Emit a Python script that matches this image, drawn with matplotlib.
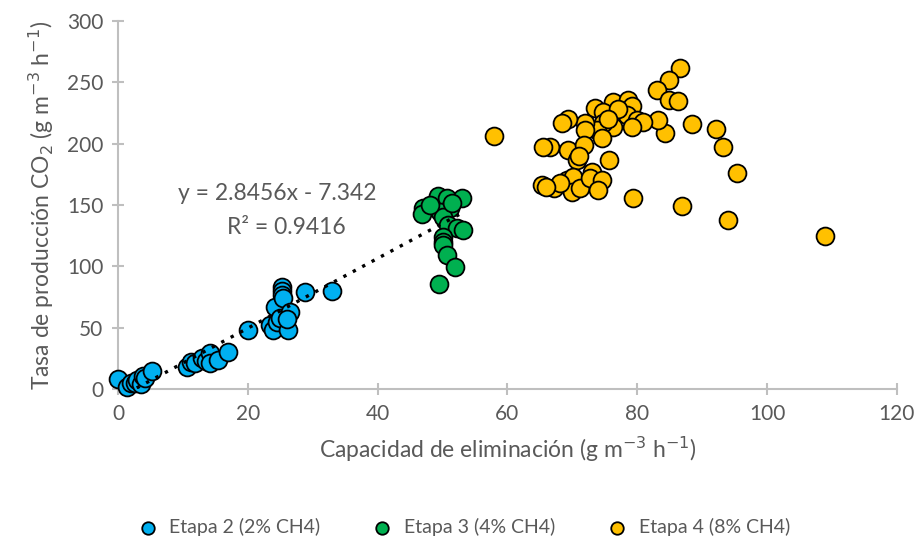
import numpy as np
import matplotlib.pyplot as plt

# ─── Data ─────────────────────────────────────────────────────────────────────

etapa2_x = [0, 1.4, 2.0, 2.6, 3.0, 3.5, 3.9, 4.2, 5.2, 10.6, 11.2, 11.9, 12.9,
            13.5, 14.2, 14.2, 15.4, 17.0, 20.0, 23.4, 23.9, 24.2, 24.5, 25.0,
            25.3, 25.3, 25.2, 25.5, 26.2, 26.5, 26.0, 28.8, 33.0]
etapa2_y = [8, 2, 5, 5, 7, 4, 11, 9, 15, 18, 22, 21, 25,
            23, 29, 21, 24, 30, 48, 52, 48, 67, 55, 58,
            83, 80, 77, 74, 48, 63, 57, 79, 80]

etapa3_x = [47.0, 46.8, 49.3, 50.7, 53.0, 51.2, 49.6, 50.1, 50.8, 52.2,
            53.2, 50.1, 50.1, 50.1, 50.7, 51.9, 49.5, 48.0, 51.5]
etapa3_y = [147.5, 143, 157, 156, 156, 147.5, 144, 140, 133.6, 131,
            129.6, 124, 120, 117, 109, 99.5, 86, 150, 152]

etapa4_x = [57.9, 86.6, 84.9, 83.0, 84.9, 86.3, 88.4, 92.1, 93.2, 95.4,
            86.9, 79.4, 84.3, 83.2, 76.3, 78.6, 79.2, 73.5, 74.7, 78.4,
            80.0, 80.9, 79.2, 76.3, 74.7, 73.8, 72.0, 69.3, 68.4, 74.5,
            72.0, 66.6, 65.5, 69.3, 71.8, 70.7, 75.6, 65.4, 67.1, 69.2,
            70.1, 70.0, 71.2, 73.0, 72.7, 74.5, 73.9, 68.1, 94.0, 109.0,
            77.0, 75.5, 71.0, 66.0]
etapa4_y = [206, 262, 252, 244, 236, 235, 216, 212, 197, 176,
            149, 156, 209, 219, 234, 236, 231, 229, 226, 223,
            219, 218, 213.5, 213.5, 217, 211, 217, 220, 217, 205,
            211, 197, 197, 195, 199, 187, 187, 166, 164, 170,
            173, 161, 164, 177, 172, 170, 162, 168, 138, 125,
            228, 220, 190, 165]

series = [
    ("Etapa 2 (2% CH4)", etapa2_x, etapa2_y, "#00B0F0"),
    ("Etapa 3 (4% CH4)", etapa3_x, etapa3_y, "#00B050"),
    ("Etapa 4 (8% CH4)", etapa4_x, etapa4_y, "#FFC000"),
]

slope, intercept = 2.8456, -7.342
trend_range = [0, 53]

# ─── Plot ─────────────────────────────────────────────────────────────────────

plt.rcParams['font.family'] = ['Lato', 'DejaVu Sans']
grey = "#595959"
axis_grey = "#BFBFBF"

fig = plt.figure(figsize=(9.18, 5.43), dpi=100)
ax = fig.add_axes([0.1285, 0.2836, 0.8485, 0.6777])

for label, xs, ys, color in series:
    ax.scatter(xs, ys, s=165, color=color, edgecolors="black",
               linewidths=1.3, label=label, zorder=3, clip_on=False)

tx = np.array(trend_range)
ax.plot(tx, slope * tx + intercept, linestyle=(0, (1, 2.2)), color="black",
        linewidth=2.4, zorder=4)

# trendline equation box, Excel style
ax.text(24.5, 159, "y = 2.8456x - 7.342", ha="center", va="center",
        fontsize=16.5, color=grey)
ax.text(26.0, 132, "R² = 0.9416", ha="center", va="center",
        fontsize=16.5, color=grey)

ax.set_xlim(0, 120)
ax.set_ylim(0, 300)
ax.set_xticks(range(0, 121, 20))
ax.set_yticks(range(0, 301, 50))

for side in ("top", "right"):
    ax.spines[side].set_visible(False)
for side in ("left", "bottom"):
    ax.spines[side].set_color(axis_grey)
    ax.spines[side].set_linewidth(1.5)
ax.tick_params(direction="inout", length=9, width=1.5, color=axis_grey,
               labelcolor=grey, labelsize=15, pad=6)

ax.set_xlabel("Capacidad de eliminación (g m$^{-3}$ h$^{-1}$)",
              fontsize=16.5, color=grey, labelpad=8)
ax.set_ylabel("Tasa de producción CO$_2$ (g m$^{-3}$ h$^{-1}$)",
              fontsize=16.5, color=grey, labelpad=8)

leg = fig.legend(loc="center", bbox_to_anchor=(0.5, 0.03), ncol=3,
                 frameon=False, fontsize=14, handletextpad=0.1,
                 columnspacing=2.2, markerscale=0.7)
for t in leg.get_texts():
    t.set_color(grey)

fig.savefig("out.png", dpi=100)
